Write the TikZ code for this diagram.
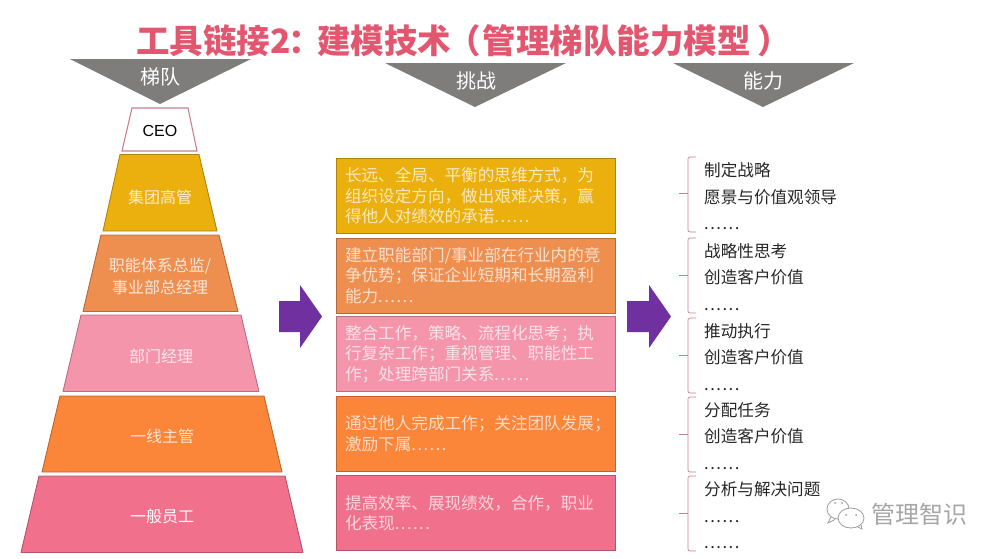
\documentclass[tikz,border=0pt]{standalone}
\usepackage{xcolor}
\usepackage{fontspec}
\setmainfont{Noto Sans CJK SC}
\newfontfamily\latinfont{Liberation Sans}
\newfontfamily\dotfont[LetterSpace=9]{Noto Sans CJK SC}
\newcommand{\dotrow}{{\dotfont......}}
\definecolor{titlered}{HTML}{E2576F}
\definecolor{headgray}{HTML}{7F7C7C}
\definecolor{goldfill}{HTML}{EBB00E}
\definecolor{clayfill}{HTML}{EE8F50}
\definecolor{pinkfill}{HTML}{F595AB}
\definecolor{orangefill}{HTML}{FB8539}
\definecolor{rosefill}{HTML}{F1708C}
\definecolor{bracketred}{HTML}{C9808A}
\definecolor{arrowpurple}{HTML}{7030A0}
\tikzset{
  headtri/.style={fill=headgray,draw=none},
  headtext/.style={text=white,font=\fontsize{20}{24}\selectfont},
  tier/.style={draw=#1!75!black,fill=#1,line width=0.9pt,line join=round},
  tiertext/.style={text=white!78!#1,font=\fontsize{16}{22}\selectfont,align=center},
  boxnode/.style={draw=#1!75!black,fill=#1,line width=0.9pt,minimum width=279pt,
    minimum height=75pt,text width=261pt,align=left,inner sep=0pt,text=white!72!#1,
    font=\fontsize{16.6}{20.4}\selectfont},
  bracket/.style={draw=bracketred,line width=0.7pt,rounded corners=2pt},
  abilitytext/.style={anchor=west,inner sep=0pt,text=black!85,font=\fontsize{16.6}{20}\selectfont},
  bigarrow/.style={fill=arrowpurple,draw=none},
}
\begin{document}
\begin{tikzpicture}[x=1pt,y=-1pt]
\useasboundingbox (0,0) rectangle (1000,558);

\node[text=titlered,font=\fontsize{33.5}{38}\bfseries\selectfont,anchor=west,inner sep=0pt] (title) at (136,41) {工具链接2\hspace{-2pt}：\hspace{-5pt}建模技术\hspace{-4pt}（\hspace{2pt}管理梯队能力模型\hspace{7pt}）};

\fill[headtri] (70,59)--(251,59)--(160,104)--cycle;
\fill[headtri] (385,63)--(566,63)--(475,107)--cycle;
\fill[headtri] (673,63)--(854,63)--(763,107)--cycle;
\node[headtext] (headteam) at (160.5,77) {梯队};
\node[headtext] (headchallenge) at (476,81) {挑战};
\node[headtext] (headability) at (763,81) {能力};

\draw[draw=bracketred,fill=white,line width=1.1pt] (132,108)--(188,108)--(197,151)--(122,151)--cycle;
\draw[tier=goldfill] (120,154.5)--(199,154.5)--(217,231)--(103,231)--cycle;
\draw[tier=clayfill] (101,235)--(219,235)--(238,311.5)--(83,311.5)--cycle;
\draw[tier=pinkfill] (81,315)--(241,315)--(259,391.5)--(63,391.5)--cycle;
\draw[tier=orangefill] (60,396)--(264,396)--(282,472)--(42,472)--cycle;
\draw[tier=rosefill] (39,476)--(285,476)--(303,552.5)--(21,552.5)--cycle;
\node[font=\latinfont\fontsize{16}{18}\selectfont] (ceo) at (160,131) {CEO};
\node[tiertext=goldfill] (exec) at (160,197) {集团高管};
\node[tiertext=clayfill] (director) at (160,276) {职能体系总监/\\事业部总经理};
\node[tiertext=pinkfill] (manager) at (161,356) {部门经理};
\node[tiertext=orangefill] (leader) at (162,436) {一线主管};
\node[text=white,font=\fontsize{16}{22}\selectfont] (staff) at (162,516) {一般员工};

\fill[bigarrow] (279,301)--(300,301)--(300,285)--(322,316.5)--(300,348)--(300,332)--(279,332)--cycle;
\fill[bigarrow] (627,301)--(649,301)--(649,285)--(671,316.5)--(649,348)--(649,332)--(627,332)--cycle;

\node[boxnode=goldfill] (boxexec) at (475.5,196) {长远、全局、平衡的思维方式，为\\组织设定方向，做出艰难决策，赢\\得他人对绩效的承诺\dotrow};
\node[boxnode=clayfill] (boxdirector) at (475.5,275.5) {建立职能部门/事业部在行业内的竞\\争优势；保证企业短期和长期盈利\\能力\dotrow};
\node[boxnode=pinkfill] (boxmanager) at (475.5,354) {整合工作，策略、流程化思考；执\\行复杂工作；重视管理、职能性工\\作；处理跨部门关系\dotrow};
\node[boxnode=orangefill] (boxleader) at (475.5,433.5) {通过他人完成工作；关注团队发展；\\激励下属\dotrow};
\node[boxnode=rosefill] (boxstaff) at (475.5,513) {提高效率、展现绩效，合作，职业\\化表现\dotrow};

\draw[bracket] (696,157)--(688,157)--(688,232)--(696,232);
\draw[bracket] (696,238)--(688,238)--(688,313)--(696,313);
\draw[bracket] (696,318)--(688,318)--(688,393)--(696,393);
\draw[bracket] (696,397)--(688,397)--(688,472)--(696,472);
\draw[bracket] (696,476)--(688,476)--(688,551)--(696,551);
\draw[draw=bracketred,line width=0.7pt] (679,193)--(688,193);
\draw[draw=bracketred,line width=0.7pt] (679,275)--(688,275);
\draw[draw=bracketred,line width=0.7pt] (679,355)--(688,355);
\draw[draw=bracketred,line width=0.7pt] (679,434)--(688,434);
\draw[draw=bracketred,line width=0.7pt] (679,513)--(688,513);

\node[abilitytext] (strategy) at (704,170) {制定战略};
\node[abilitytext] (vision) at (704,197) {愿景与价值观领导};
\node[abilitytext] (dotsa) at (704,229) {\dotrow};
\node[abilitytext] (thinking) at (704,251) {战略性思考};
\node[abilitytext] (valuea) at (704,277) {创造客户价值};
\node[abilitytext] (dotsb) at (704,310) {\dotrow};
\node[abilitytext] (execute) at (704,331) {推动执行};
\node[abilitytext] (valueb) at (704,357) {创造客户价值};
\node[abilitytext] (dotsc) at (704,390) {\dotrow};
\node[abilitytext] (assign) at (704,410) {分配任务};
\node[abilitytext] (valuec) at (704,436) {创造客户价值};
\node[abilitytext] (dotsd) at (704,469) {\dotrow};
\node[abilitytext] (analyse) at (704,489) {分析与解决问题};
\node[abilitytext] (dotse) at (704,522) {\dotrow};
\node[abilitytext] (dotsf) at (704,548) {\dotrow};

\draw[draw=black!38,line width=0.8pt,fill=white] (838,509) ellipse (11 and 10);
\draw[draw=black!38,line width=0.8pt] (831,517)--(828,523)--(835,519.5);
\draw[draw=black!38,line width=0.8pt,fill=white] (851,518) ellipse (13 and 10);
\draw[draw=black!38,line width=0.8pt] (857,526.5)--(862,529)--(861,524.5);
\fill[black!38] (835,503) circle (1);
\fill[black!38] (842,503) circle (1);
\fill[black!38] (846,515) circle (1);
\fill[black!38] (856,515) circle (1);
\node[text=black!35,font=\fontsize{24}{26}\selectfont,anchor=west,inner sep=0pt] (watermark) at (871,514) {管理智识};
\end{tikzpicture}
\end{document}
